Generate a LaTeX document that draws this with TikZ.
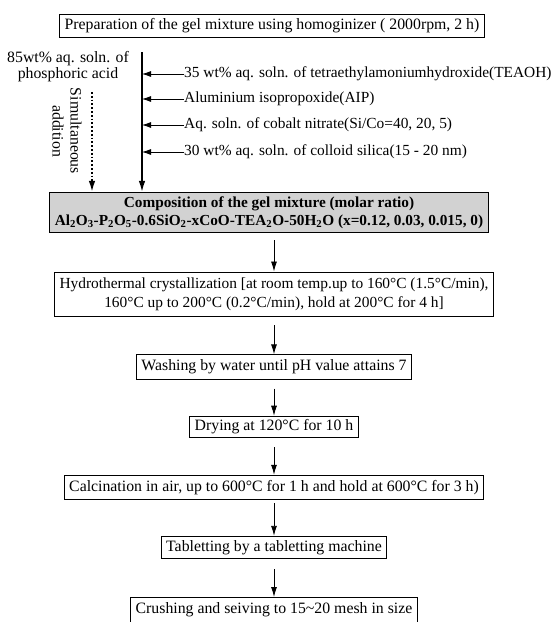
\documentclass[tikz,border=0pt]{standalone}
\usepackage{fontspec}
\setmainfont{Liberation Serif}
\usetikzlibrary{arrows.meta,positioning}
\tikzset{
  stepbox/.style={draw,line width=1pt,inner xsep=5pt,inner ysep=5pt,align=center},
  gelbox/.style={stepbox,inner ysep=4pt,fill=gray!35,font=\fontsize{15.3}{18}\selectfont\bfseries},
  flow/.style={-{Latex[length=10pt,width=6pt]},line width=0.9pt},
  feed/.style={-{Latex[length=9pt,width=6pt]},line width=0.8pt},
  spine/.style={-{Latex[length=11pt,width=6.5pt]},line width=1.6pt},
  simul/.style={-{Latex[length=11pt,width=6.5pt]},line width=1.8pt,dotted},
  feedtext/.style={anchor=west,inner sep=0pt,font=\fontsize{15.4}{18}\selectfont}
}
\begin{document}
\begin{tikzpicture}[x=1pt,y=-1pt,font=\fontsize{15.8}{18}\selectfont]
  \useasboundingbox (0,0) rectangle (556,622);
  % gel preparation
  \node[stepbox,inner ysep=4pt] (prep) at (272,26) {Preparation of the gel mixture using homoginizer ( 2000rpm, 2 h)};
  \node[align=center,inner sep=0pt,font=\fontsize{15.8}{16}\selectfont] (acid) at (68,67) {85wt\% aq. soln. of\\phosphoric acid};
  \node[rotate=-90,align=center,inner sep=0pt] (simul) at (67,131) {Simultaneous\\addition};
  \node[gelbox] (gel) at (269,212.5) {Composition of the gel mixture (molar ratio)\\
    Al\textsubscript{2}O\textsubscript{3}-P\textsubscript{2}O\textsubscript{5}-0.6SiO\textsubscript{2}-xCoO-TEA\textsubscript{2}O-50H\textsubscript{2}O (x=0.12, 0.03, 0.015, 0)};
  \coordinate (spinetop) at (142,52);
  \coordinate (dottop) at (92,92);
  \draw[spine] (spinetop) -- (spinetop |- gel.north);
  \draw[simul] (dottop) -- (dottop |- gel.north);
  % reagents fed into the mixture
  \foreach \name/\y/\txt in {teaoh/74/{35 wt\% aq. soln. of tetraethylamoniumhydroxide(TEAOH)},
      aip/99/{Aluminium isopropoxide(AIP)},
      cobalt/125/{Aq. soln. of cobalt nitrate(Si/Co=40, 20, 5)},
      silica/152/{30 wt\% aq. soln. of colloid silica(15 - 20 nm)}} {
    \node[feedtext] (\name) at (184,\y) {\txt};
    \draw[feed] (\name.west) -- (\name.west -| spinetop);
  }
  % treatment steps
  \node[stepbox,inner ysep=6pt,font=\fontsize{15.4}{19}\selectfont] (hydro) at (274,294.5) {Hydrothermal crystallization [at room temp.up to 160°C (1.5°C/min),\\
    160°C up to 200°C (0.2°C/min), hold at 200°C for 4 h]};
  \node[stepbox] (wash) at (274,367) {Washing by water until pH value attains 7};
  \node[stepbox,inner ysep=3.5pt] (dry) at (274,427) {Drying at 120°C for 10 h};
  \node[stepbox] (calc) at (274,487.5) {Calcination in air, up to 600°C for 1 h and hold at 600°C for 3 h)};
  \node[stepbox,inner ysep=4pt] (tab) at (274,547.5) {Tabletting by a tabletting machine};
  \node[stepbox,anchor=north,inner ysep=5.5pt,text depth=12pt] (crush) at (274,597) {Crushing and seiving to 15\textasciitilde20 mesh in size};
  \draw[flow,shorten <=7pt] (hydro.north |- gel.south) -- (hydro.north);
  \draw[flow,shorten <=8pt] (hydro.south) -- (wash.north);
  \draw[flow,shorten <=9pt] (wash.south) -- (dry.north);
  \draw[flow,shorten <=9pt] (dry.south) -- (calc.north);
  \draw[flow,shorten <=3pt] (calc.south) -- (tab.north);
  \draw[flow,shorten <=10pt] (tab.south) -- (crush.north);
\end{tikzpicture}
\end{document}
